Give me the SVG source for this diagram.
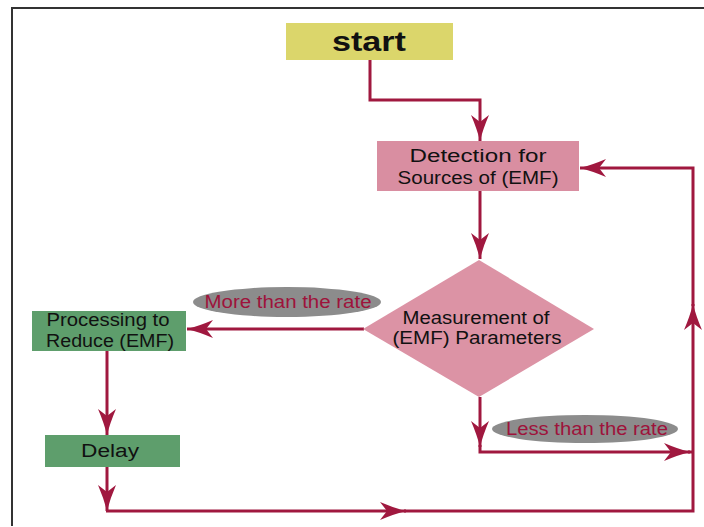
<svg xmlns="http://www.w3.org/2000/svg" width="704" height="527" viewBox="0 0 704 527">
<defs>
<style>
.ln{fill:none;stroke:#a0183f;stroke-width:3}
.t{font-family:"Liberation Sans",Arial,sans-serif;fill:#111;text-anchor:middle}
.lbl{font-family:"Liberation Sans",Arial,sans-serif;fill:#9e133b;text-anchor:middle}
.ell{fill:#8c8c8c}
</style>
<marker id="ah" viewBox="0 0 26 18" markerWidth="26" markerHeight="18" refX="26" refY="9" orient="auto" markerUnits="userSpaceOnUse">
<path d="M0,0 Q14,6 26,9 Q14,12 0,18 L7,9 Z" fill="#a0183f"/>
</marker>
</defs>
<rect width="704" height="527" fill="#fff"/>
<path d="M12,526 V8 H704" fill="none" stroke="#333" stroke-width="2"/>

<g id="connectors">
<path class="ln" d="M370,60 V100 H480 V141" marker-end="url(#ah)"/>
<path class="ln" d="M480,191 V259" marker-end="url(#ah)"/>
<path class="ln" d="M364,329 H187" marker-end="url(#ah)"/>
<path class="ln" d="M107,351 V435" marker-end="url(#ah)"/>
<path class="ln" d="M107,467 V511" marker-end="url(#ah)"/>
<path class="ln" d="M106,511 H406" marker-end="url(#ah)"/>
<path class="ln" d="M404,511 H693 V304" marker-end="url(#ah)"/>
<path class="ln" d="M693,306 V168 H580" marker-end="url(#ah)"/>
<path class="ln" d="M480,397 V447" marker-end="url(#ah)"/>
<path class="ln" d="M480,445 V452 H690" marker-end="url(#ah)"/>
<path class="ln" d="M688,452 H693"/>
</g>

<g id="start">
<rect x="286" y="23" width="167" height="37" fill="#dbd66b"/>
<text class="t" x="369" y="51" font-size="27" font-weight="bold" textLength="74" lengthAdjust="spacingAndGlyphs">start</text>
</g>

<g id="detection">
<rect x="377" y="141" width="202" height="50" fill="#d98ea1"/>
<text class="t" x="478" y="162" font-size="17.5" textLength="137" lengthAdjust="spacingAndGlyphs">Detection for</text>
<text class="t" x="478" y="184" font-size="17.5" textLength="161" lengthAdjust="spacingAndGlyphs">Sources of (EMF)</text>
</g>

<g id="measurement">
<polygon points="479,260 594,329 479,397 363,329" fill="#dc93a5"/>
<text class="t" x="476" y="324" font-size="17.5" textLength="147" lengthAdjust="spacingAndGlyphs">Measurement of</text>
<text class="t" x="477" y="344" font-size="17.5" textLength="169" lengthAdjust="spacingAndGlyphs">(EMF) Parameters</text>
</g>

<g id="more-label">
<ellipse class="ell" cx="287" cy="302" rx="94" ry="15"/>
<text class="lbl" x="288" y="308" font-size="17.5" textLength="167" lengthAdjust="spacingAndGlyphs">More than the rate</text>
</g>

<g id="processing">
<rect x="32" y="311" width="154" height="40" fill="#5e9e6c"/>
<text class="t" x="108" y="326" font-size="17.5" textLength="123" lengthAdjust="spacingAndGlyphs">Processing to</text>
<text class="t" x="110" y="347" font-size="17.5" textLength="128" lengthAdjust="spacingAndGlyphs">Reduce (EMF)</text>
</g>

<g id="delay">
<rect x="45" y="435" width="135" height="32" fill="#5e9e6c"/>
<text class="t" x="110" y="457" font-size="18" textLength="58" lengthAdjust="spacingAndGlyphs">Delay</text>
</g>

<g id="less-label">
<ellipse class="ell" cx="585" cy="429" rx="93" ry="14"/>
<text class="lbl" x="587" y="435" font-size="17.5" textLength="162" lengthAdjust="spacingAndGlyphs">Less than the rate</text>
</g>
</svg>
